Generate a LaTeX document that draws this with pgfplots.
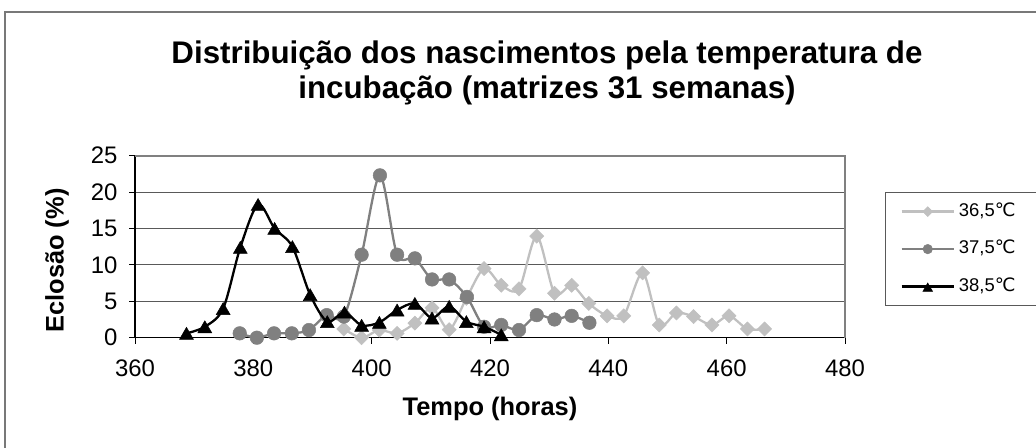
\documentclass[border=0pt]{standalone}
\usepackage{fontspec}
\setmainfont{Liberation Sans}
\newfontfamily\dejavu{DejaVu Sans}
\usepackage{pgfplots}
\pgfplotsset{compat=1.18}
\definecolor{cA}{RGB}{192,192,192}
\definecolor{cB}{RGB}{128,128,128}
\definecolor{frameC}{RGB}{120,120,120}
\newcommand{\degC}{{\dejavu ℃}}
\begin{document}
\begin{tikzpicture}[x=1bp,y=1bp]
\useasboundingbox (0,0) rectangle (1036,448);
% outer chart frame
\draw[frameC, line width=1.4bp] (5,-5) -- (5,436) -- (1041,436);
% title
\node[font=\fontsize{31.4}{36}\selectfont\bfseries, anchor=base] at (547,384.7) {Distribuição dos nascimentos pela temperatura de};
\node[font=\fontsize{31.4}{36}\selectfont\bfseries, anchor=base] at (547,349.7) {incubação (matrizes 31 semanas)};
\begin{axis}[
  at={(135bp,110.3bp)}, anchor=south west,
  scale only axis, width=710bp, height=182bp,
  xmin=360, xmax=480, ymin=0, ymax=25,
  xtick={360,380,...,480}, ytick={0,5,...,25},
  axis lines*=left,
  axis line style={black, line width=1.4bp, -},
  tick align=outside, major tick length=6bp,
  tick style={black, line width=1bp},
  ymajorgrids, grid style={draw=black!65, line width=1bp},
  clip mode=individual,
  /pgf/number format/assume math mode=true,
  tick label style={font=\fontsize{24}{26}\selectfont},
  xticklabel style={anchor=base, yshift=-33bp},
  yticklabel style={anchor=east, xshift=-8bp},
  legend style={at={(1.0563,0.8005)}, anchor=north west, draw=black!65, line width=1.2bp,
    font=\fontsize{18.5}{20}\selectfont, inner xsep=15bp, inner ysep=10.5bp,
    nodes={inner sep=0pt, text height=13bp, text depth=4bp}, row sep=20.5bp, column sep=4bp,
    cells={anchor=west}},
  legend image code/.code={\draw[mark repeat=2,mark phase=2,#1] plot coordinates {(0bp,0bp) (26bp,0bp) (52bp,0bp)};},
  legend image post style={sharp plot, /tikz/every mark/.append style={scale=0.7}},
]
\draw[cB, line width=2bp] (rel axis cs:0,1) -- (rel axis cs:1,1) -- (rel axis cs:1,0);
\addplot[cA, line width=2.3bp, smooth, tension=0.5, mark=square*, mark size=5bp, mark options={rotate=45, fill=cA, draw=cA, line width=0.5bp}] coordinates {
(395.3,1.2) (398.3,0) (401.3,1.05) (404.3,0.6) (407.3,2.0) (410.2,4.1) (413.1,1.1) (416.0,5.4) (419.0,9.5) (421.9,7.2) (424.9,6.7) (427.9,13.95) (430.9,6.1) (433.8,7.2) (436.7,4.7) (439.8,3.0) (442.6,3.0) (445.8,8.9) (448.6,1.75) (451.5,3.4) (454.4,2.9) (457.5,1.75) (460.4,3.0) (463.5,1.2) (466.4,1.2)
};
\addlegendentry{\makebox[64bp][l]{36,5\degC}}
\addplot[cB, line width=2.3bp, smooth, tension=0.5, mark=*, mark size=6.8bp, mark options={fill=cB, draw=cB, line width=0.5bp}] coordinates {
(377.7,0.6) (380.6,0) (383.5,0.6) (386.5,0.6) (389.4,1.05) (392.4,3.1) (395.3,2.9) (398.3,11.4) (401.4,22.3) (404.3,11.4) (407.3,10.9) (410.2,8.0) (413.1,8.0) (416.1,5.6) (419.0,1.5) (421.9,1.75) (424.9,1.05) (427.9,3.1) (430.9,2.5) (433.8,3.0) (436.8,2.05)
};
\addlegendentry{\makebox[64bp][l]{37,5\degC}}
\addplot[black, line width=2.3bp, smooth, tension=0.5, mark=triangle*, mark size=8bp, mark options={fill=black, draw=black, line width=0.5bp, yshift=-2bp}] coordinates {
(368.7,0.6) (371.8,1.5) (374.9,4.0) (377.8,12.4) (380.8,18.3) (383.6,15.0) (386.6,12.5) (389.6,5.9) (392.5,2.2) (395.4,3.5) (398.3,1.7) (401.3,2.1) (404.3,3.8) (407.3,4.7) (410.2,2.7) (413.1,4.3) (416.0,2.2) (419.0,1.5) (421.9,0.4)
};
\addlegendentry{\makebox[64bp][l]{38,5\degC}}
\end{axis}
% axis titles
\node[font=\fontsize{25.5}{28}\selectfont\bfseries, anchor=base] at (490,32.3) {Tempo (horas)};
\node[font=\fontsize{25.5}{28}\selectfont\bfseries, rotate=90, anchor=center] at (57,187.5) {Eclosão (\%)};
\end{tikzpicture}
\end{document}
